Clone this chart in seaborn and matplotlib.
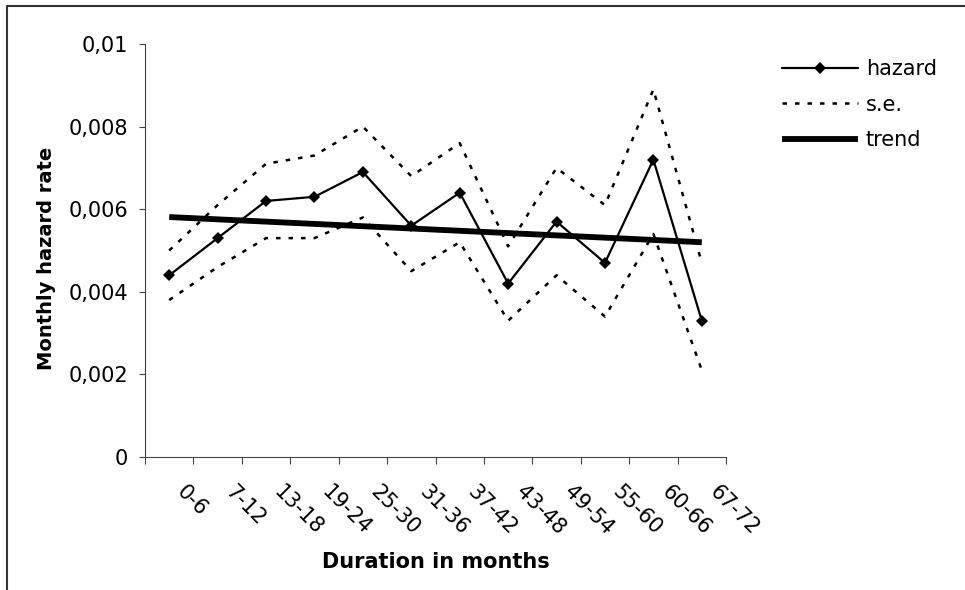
import numpy as np
import pandas as pd
import matplotlib
matplotlib.use("Agg")
import matplotlib.pyplot as plt
from matplotlib.lines import Line2D
from matplotlib import transforms
import seaborn as sns

# Duration categories (months)
durations = ["0-6", "7-12", "13-18", "19-24", "25-30", "31-36",
             "37-42", "43-48", "49-54", "55-60", "60-66", "67-72"]

# Monthly hazard rate per duration class
hazard = [0.0044, 0.0053, 0.0062, 0.0063, 0.0069, 0.0056,
          0.0064, 0.0042, 0.0057, 0.0047, 0.0072, 0.0033]

# Standard-error band (upper / lower)
se_upper = [0.0050, 0.0061, 0.0071, 0.0073, 0.0080, 0.0068,
            0.0076, 0.0051, 0.0070, 0.0061, 0.0089, 0.0047]
se_lower = [0.0038, 0.0046, 0.0053, 0.0053, 0.0058, 0.0045,
            0.0052, 0.0033, 0.0044, 0.0034, 0.0054, 0.0021]

# Linear trend (first and last duration class)
trend_x = ["0-6", "67-72"]
trend = [0.00581, 0.00520]

y_ticks = [0, 0.002, 0.004, 0.006, 0.008, 0.01]

sns.set_style("white")
plt.rcParams["font.family"] = ["DejaVu Sans"]
plt.rcParams["text.color"] = "black"
plt.rcParams["axes.labelcolor"] = "black"
plt.rcParams["xtick.labelcolor"] = "black"
plt.rcParams["ytick.labelcolor"] = "black"

fig = plt.figure(figsize=(9.65, 5.9), dpi=100)
ax = fig.add_axes([145 / 965, 1 - 457 / 590, (726 - 145) / 965, (457 - 44) / 590])

df = pd.DataFrame({"duration": durations, "hazard": hazard,
                   "upper": se_upper, "lower": se_lower})
df_trend = pd.DataFrame({"duration": trend_x, "trend": trend})

se_dash = (1.8, 3.2)
sns.lineplot(data=df, x="duration", y="upper", ax=ax, color="black",
             linewidth=1.8, sort=False)
sns.lineplot(data=df, x="duration", y="lower", ax=ax, color="black",
             linewidth=1.8, sort=False)
for ln in ax.lines:
    ln.set_dashes(se_dash)
sns.lineplot(data=df_trend, x="duration", y="trend", ax=ax, color="black",
             linewidth=4.2, sort=False, solid_capstyle="butt")
sns.lineplot(data=df, x="duration", y="hazard", ax=ax, color="black",
             linewidth=1.6, marker="D", markersize=6.5, markeredgewidth=0,
             sort=False)

ax.set_xlim(-0.5, len(durations) - 0.5)
ax.set_ylim(0, 0.01)

# Y axis ticks with decimal commas
ax.set_yticks(y_ticks)
ax.set_yticklabels([f"{v:g}".replace(".", ",") for v in y_ticks])
ax.tick_params(axis="y", which="major", direction="out", length=4,
               width=0.8, color="#444444", labelsize=15, pad=8, left=True)

# Category boundaries as major ticks, category names on minor ticks
ax.set_xticks(np.arange(-0.5, len(durations), 1.0))
ax.set_xticklabels([])
ax.tick_params(axis="x", which="major", direction="out", length=5,
               width=0.8, color="#444444", bottom=True)
ax.set_xticks(np.arange(len(durations)), minor=True)
ax.set_xticklabels(durations, minor=True)
ax.tick_params(axis="x", which="minor", length=0, labelsize=15, pad=18)
offset = transforms.ScaledTranslation(18 / 100, 0, fig.dpi_scale_trans)
for lab in ax.get_xticklabels(minor=True):
    lab.set_rotation(-45)
    lab.set_rotation_mode("anchor")
    lab.set_ha("left")
    lab.set_va("top")
    lab.set_transform(lab.get_transform() + offset)

for side in ("top", "right"):
    ax.spines[side].set_visible(False)
for side in ("left", "bottom"):
    ax.spines[side].set_color("#444444")
    ax.spines[side].set_linewidth(0.8)

ax.set_ylabel("Monthly hazard rate", fontsize=14, fontweight="bold",
              va="center")
ax.yaxis.set_label_coords((46.5 - 145) / 581, 1 - (258.5 - 44) / 413)
ax.set_xlabel("Duration in months", fontsize=15, fontweight="bold", va="center")
ax.xaxis.set_label_coords(0.5, -0.254)

handles = [
    Line2D([], [], color="black", linewidth=1.6, marker="D", markersize=6.5,
           markeredgewidth=0),
    Line2D([], [], color="black", linewidth=1.8, dashes=se_dash),
    Line2D([], [], color="black", linewidth=4.2, solid_capstyle="butt"),
]
fig.legend(handles, ["hazard", "s.e.", "trend"], loc="upper left",
           bbox_to_anchor=(782 / 965, 1 - 59 / 590), frameon=False,
           fontsize=15, handlelength=3.65, handletextpad=0.38,
           labelspacing=0.75, borderpad=0, borderaxespad=0)

# Chart-area border (left and top edges)
fig.add_artist(Line2D([7 / 965, 7 / 965], [0, 1 - 6 / 590],
                      transform=fig.transFigure, color="#333333", linewidth=1.5))
fig.add_artist(Line2D([7 / 965, 1], [1 - 6 / 590, 1 - 6 / 590],
                      transform=fig.transFigure, color="#333333", linewidth=1.5))

fig.savefig("out.png", dpi=100, facecolor="white")
